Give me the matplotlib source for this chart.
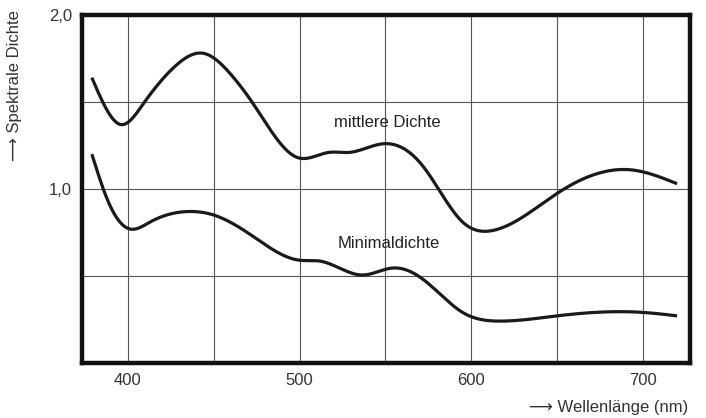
import numpy as np
import matplotlib
matplotlib.use('Agg')
import matplotlib.pyplot as plt

plt.rcParams['font.family'] = ['Liberation Sans', 'DejaVu Sans']

# values (wavelength in nm, spectral density)
mid_wl = [379, 396, 409, 428, 444, 459, 473, 499, 517, 529, 549, 572, 595, 612, 651, 693, 720]
mid_d = [1.64, 1.37, 1.49, 1.71, 1.78, 1.67, 1.49, 1.18, 1.21, 1.21, 1.26, 1.13, 0.81, 0.76, 0.98, 1.11, 1.03]

min_wl = [379, 388, 401, 413, 435, 450, 471, 500, 512, 537, 554, 572, 595, 616, 650, 700, 720]
min_d = [1.20, 0.94, 0.77, 0.81, 0.87, 0.85, 0.74, 0.59, 0.585, 0.505, 0.545, 0.48, 0.29, 0.24, 0.27, 0.29, 0.27]

x_ticks = [400, 450, 500, 550, 600, 650, 700]
x_labels = ['400', '', '500', '', '600', '', '700']
y_ticks = [0.5, 1.0, 1.5, 2.0]
y_labels = ['', '1,0', '', '2,0']


def smooth(x, y, n=600):
    # natural cubic spline through the read points, only so the line is drawn smooth
    x = np.asarray(x, float)
    y = np.asarray(y, float)
    h = np.diff(x)
    m = len(x)
    A = np.zeros((m, m))
    b = np.zeros(m)
    A[0, 0] = A[-1, -1] = 1
    for i in range(1, m - 1):
        A[i, i - 1] = h[i - 1]
        A[i, i] = 2 * (h[i - 1] + h[i])
        A[i, i + 1] = h[i]
        b[i] = 6 * ((y[i + 1] - y[i]) / h[i] - (y[i] - y[i - 1]) / h[i - 1])
    M = np.linalg.solve(A, b)
    xs = np.linspace(x[0], x[-1], n)
    k = np.clip(np.searchsorted(x, xs) - 1, 0, m - 2)
    t0 = xs - x[k]
    t1 = x[k + 1] - xs
    hk = h[k]
    ys = (M[k] * t1 ** 3 + M[k + 1] * t0 ** 3) / (6 * hk) \
        + (y[k] / hk - M[k] * hk / 6) * t1 + (y[k + 1] / hk - M[k + 1] * hk / 6) * t0
    return xs, ys


fig = plt.figure(figsize=(7.06, 4.18), dpi=100)
ax = fig.add_axes([0.116, 0.132, 0.861, 0.832])

ax.plot(*smooth(mid_wl, mid_d), color='#1a1a1a', lw=2.3, solid_capstyle='butt', zorder=3)
ax.plot(*smooth(min_wl, min_d), color='#1a1a1a', lw=2.3, solid_capstyle='butt', zorder=3)

ax.text(551, 1.38, 'mittlere Dichte', ha='center', va='center', fontsize=12, color='#222')
ax.text(552, 0.685, 'Minimaldichte', ha='center', va='center', fontsize=12, color='#222')

ax.set_xlim(373.2, 727.4)
ax.set_ylim(0, 2.0)
ax.set_xticks(x_ticks)
ax.set_xticklabels(x_labels)
ax.set_yticks(y_ticks)
ax.set_yticklabels(y_labels)
ax.tick_params(length=0, labelsize=12, labelcolor='#333', pad=7)
ax.grid(True, color='#555', lw=0.8)
ax.set_axisbelow(True)
for s in ax.spines.values():
    s.set_linewidth(3.2)
    s.set_color('#111')

fig.text(0.021, 0.976, '\u27f6 Spektrale Dichte', rotation=90, ha='center', va='top',
         fontsize=12, color='#333')
fig.text(0.975, 0.024, '\u27f6 Wellenlänge (nm)', ha='right', va='center',
         fontsize=12, color='#333')

fig.savefig('out.png', dpi=100)
